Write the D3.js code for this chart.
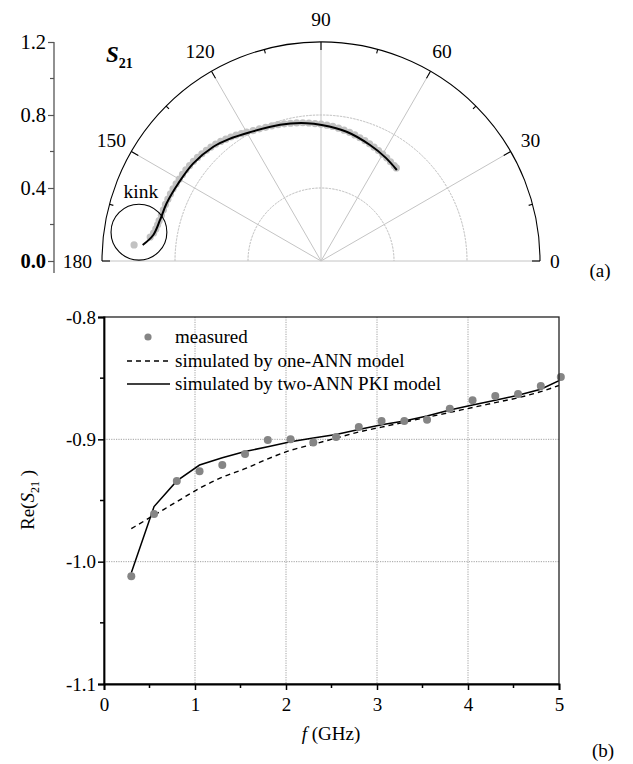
<!DOCTYPE html>
<html>
<head>
<meta charset="utf-8">
<script src="https://cdn.jsdelivr.net/npm/d3@7"></script>
<style>
    body { margin: 0; background: #fff; }
    svg { font-family: "Liberation Serif", "DejaVu Serif", serif; }
</style>
</head>
<body>
<svg id="chart" width="633" height="764"></svg>
<script>
// ---- (a) polar S21: [angle in degrees, magnitude]
const polarMeasured = [
    [175.1, 1.028],
    [172.0, 0.945], [170.5, 0.930], [169.0, 0.922], [167.5, 0.917], [166.0, 0.914],
    [164.0, 0.910], [162.0, 0.908], [160.0, 0.907], [158.0, 0.905], [156.0, 0.903],
    [154.0, 0.902], [152.0, 0.899], [150.0, 0.897], [148.0, 0.895], [146.0, 0.893],
    [144.0, 0.890], [142.0, 0.887], [140.0, 0.883], [138.0, 0.878], [136.0, 0.873],
    [134.0, 0.868], [132.0, 0.862], [130.0, 0.855], [128.0, 0.847], [126.0, 0.840],
    [124.0, 0.832], [122.0, 0.823], [120.0, 0.815], [117.5, 0.806], [115.0, 0.799],
    [112.5, 0.793], [110.0, 0.788], [107.5, 0.783], [105.0, 0.778], [102.5, 0.773],
    [100.0, 0.768], [97.5, 0.764], [95.0, 0.759], [92.5, 0.754], [90.0, 0.750],
    [87.5, 0.745], [85.0, 0.740], [82.5, 0.734], [80.0, 0.728], [77.5, 0.722],
    [75.0, 0.715], [72.5, 0.708], [70.0, 0.702], [67.5, 0.695], [65.0, 0.688],
    [62.5, 0.682], [60.0, 0.676], [57.5, 0.670], [55.0, 0.664], [52.5, 0.659],
    [51.0, 0.656]
];
const polarSimulated = [
    [174.9, 0.981], [171.2, 0.930], [165.7, 0.910], [159.5, 0.903], [151.4, 0.890],
    [142.6, 0.881], [133.3, 0.860], [127.3, 0.838], [118.9, 0.806], [106.7, 0.780],
    [95.9, 0.759], [89.7, 0.745], [78.8, 0.722], [67.1, 0.690], [58.0, 0.668],
    [50.2, 0.649]
];
const angleTicks = [0, 30, 60, 90, 120, 150, 180];
const radialTicks = [0, 0.4, 0.8, 1.2];
const kinkMark = { angle: 171, mag: 1.01, radius: 0.153 };

// ---- (b) Re(S21) vs frequency
const freqs = [0.3, 0.55, 0.8, 1.05, 1.3, 1.55, 1.8, 2.05, 2.3, 2.55, 2.8, 3.05,
    3.3, 3.55, 3.8, 4.05, 4.3, 4.55, 4.8, 5.02];
const reMeasured = [-1.012, -0.961, -0.934, -0.926, -0.921, -0.912, -0.9005, -0.900,
    -0.9025, -0.898, -0.890, -0.885, -0.885, -0.884, -0.875, -0.868, -0.8645, -0.863,
    -0.8565, -0.849];
const lineFreqs = [0.3, 0.55, 0.8, 1.05, 1.3, 1.55, 1.8, 2.05, 2.3, 2.55, 2.8, 3.05,
    3.3, 3.55, 3.8, 4.05, 4.3, 4.55, 4.8, 5.0];
const reOneAnn = [-0.973, -0.962, -0.951, -0.940, -0.931, -0.924, -0.916, -0.909,
    -0.904, -0.899, -0.894, -0.890, -0.886, -0.882, -0.878, -0.874, -0.870, -0.866,
    -0.861, -0.856];
const reTwoAnn = [-1.009, -0.955, -0.934, -0.921, -0.915, -0.910, -0.906, -0.902,
    -0.899, -0.896, -0.892, -0.888, -0.885, -0.881, -0.876, -0.872, -0.868, -0.864,
    -0.859, -0.852];
const xTicks = [0, 1, 2, 3, 4, 5];
const yTicks = [-1.1, -1.0, -0.9, -0.8];
const legendItems = ["measured", "simulated by one-ANN model", "simulated by two-ANN PKI model"];

const svg = d3.select("#chart");
const fs = "19px";
const fmt1 = v => d3.format(".1f")(v).replace("\u2212", "-");

// ================= (a) polar =================
const cx = 321, cy = 261, R = 219;
const r = d3.scaleLinear().domain([0, 1.2]).range([0, R]);
const rad = a => a * Math.PI / 180;
const pxy = (a, m) => [cx + r(m) * Math.cos(rad(a)), cy - r(m) * Math.sin(rad(a))];

const gp = svg.append("g");

// dotted rings
[0.4, 0.8].forEach(m => {
    gp.append("path")
        .attr("d", d3.arc()({ innerRadius: r(m), outerRadius: r(m),
            startAngle: -Math.PI / 2, endAngle: Math.PI / 2 }))
        .attr("transform", `translate(${cx},${cy})`)
        .attr("fill", "none").attr("stroke", "#b8b8b8")
        .attr("stroke-width", 1).attr("stroke-dasharray", "1.2,2.2");
});

// spokes
angleTicks.filter(a => a > 0 && a < 180).forEach(a => {
    const p = pxy(a, 1.2);
    gp.append("line").attr("x1", cx).attr("y1", cy).attr("x2", p[0]).attr("y2", p[1])
        .attr("stroke", "#c4c4c4").attr("stroke-width", 1);
});
// base line
gp.append("line").attr("x1", cx - R).attr("x2", cx + R).attr("y1", cy).attr("y2", cy)
    .attr("stroke", "#c4c4c4").attr("stroke-width", 1);

// outer arc
gp.append("path")
    .attr("d", d3.arc()({ innerRadius: R, outerRadius: R,
        startAngle: -Math.PI / 2, endAngle: Math.PI / 2 }))
    .attr("transform", `translate(${cx},${cy})`)
    .attr("fill", "none").attr("stroke", "#000").attr("stroke-width", 1.1);

// angular ticks
d3.range(0, 181, 15).forEach(a => {
    const len = a % 30 === 0 ? 8 : 4;
    const p1 = pxy(a, 1.2), p2 = [cx + (R - len) * Math.cos(rad(a)), cy - (R - len) * Math.sin(rad(a))];
    gp.append("line").attr("x1", p1[0]).attr("y1", p1[1]).attr("x2", p2[0]).attr("y2", p2[1])
        .attr("stroke", "#000").attr("stroke-width", 1.1);
});

// angle labels
angleTicks.forEach(a => {
    let x, y, anchor = "middle";
    if (a === 0) { x = cx + R + 10; y = cy; anchor = "start"; }
    else if (a === 180) { x = cx - R - 10; y = cy; anchor = "end"; }
    else { [x, y] = [cx + 242 * Math.cos(rad(a)), cy - 242 * Math.sin(rad(a))]; }
    gp.append("text").attr("x", x).attr("y", y).attr("dy", "0.35em")
        .attr("text-anchor", anchor).attr("font-size", "19.5px").text(a);
});

// left radial axis
const yPolar = d3.scaleLinear().domain([0, 1.2]).range([cy, cy - R]);
const axA = gp.append("g").attr("transform", "translate(54,0)")
    .call(d3.axisLeft(yPolar).tickValues(radialTicks).tickFormat(fmt1).tickSize(6));
axA.select(".domain").attr("d", `M0,${cy - R}V${cy + 12}`).attr("stroke", "#555").attr("stroke-width", 1.3);
axA.selectAll(".tick line").attr("stroke", "#555").attr("stroke-width", 1.2);
axA.selectAll(".tick text").attr("font-size", "20.5px").attr("font-family", "Liberation Serif")
    .attr("fill", "#000").attr("x", -8)
    .attr("font-weight", d => d === 0 ? "bold" : null);
[0.2, 0.6, 1.0].forEach(v => {
    gp.append("line").attr("x1", 54).attr("x2", 50).attr("y1", yPolar(v)).attr("y2", yPolar(v))
        .attr("stroke", "#555").attr("stroke-width", 1.2);
});

// measured band
gp.append("g").selectAll("circle").data(polarMeasured).join("circle")
    .attr("cx", d => pxy(d[0], d[1])[0]).attr("cy", d => pxy(d[0], d[1])[1])
    .attr("r", 3.6).attr("fill", "#c2c2c2");

// simulated
gp.append("path").datum(polarSimulated)
    .attr("d", d3.line().x(d => pxy(d[0], d[1])[0]).y(d => pxy(d[0], d[1])[1])
        .curve(d3.curveCatmullRom))
    .attr("fill", "none").attr("stroke", "#000").attr("stroke-width", 2);

// kink annotation
const kc = pxy(kinkMark.angle, kinkMark.mag);
gp.append("circle").attr("cx", kc[0]).attr("cy", kc[1]).attr("r", r(kinkMark.radius))
    .attr("fill", "none").attr("stroke", "#000").attr("stroke-width", 1.1);
gp.append("text").attr("x", kc[0] + 2).attr("y", kc[1] - r(kinkMark.radius) - 6)
    .attr("text-anchor", "middle").attr("font-size", "19.5px").text("kink");

// S21 label
const sl = gp.append("text").attr("x", 106).attr("y", 62).attr("font-weight", "bold");
sl.append("tspan").attr("font-style", "italic").attr("font-size", "23px").text("S");
sl.append("tspan").attr("font-size", "14px").attr("dy", 6).text("21");

gp.append("text").attr("x", 600).attr("y", 270).attr("dy", "0.35em")
    .attr("text-anchor", "middle").attr("font-size", fs).text("(a)");

// ================= (b) Re(S21) =================
const x = d3.scaleLinear().domain([0, 5]).range([104, 559]);
const y = d3.scaleLinear().domain([-1.1, -0.8]).range([684, 317]);
const gb = svg.append("g");

gb.append("defs").append("clipPath").attr("id", "plotClip")
    .append("rect").attr("x", 104).attr("y", 317).attr("width", 455).attr("height", 367);

// grid
[1, 2, 3, 4].forEach(v => {
    gb.append("line").attr("x1", x(v)).attr("x2", x(v)).attr("y1", 317).attr("y2", 684)
        .attr("stroke", "#8a8a8a").attr("stroke-width", 0.8).attr("stroke-dasharray", "1.2,1.2");
});
[-0.9, -1.0].forEach(v => {
    gb.append("line").attr("x1", 104).attr("x2", 559).attr("y1", y(v)).attr("y2", y(v))
        .attr("stroke", "#8a8a8a").attr("stroke-width", 0.8).attr("stroke-dasharray", "1.2,1.2");
});

// data
const plot = gb.append("g").attr("clip-path", "url(#plotClip)");
plot.append("path").datum(d3.zip(lineFreqs, reOneAnn))
    .attr("d", d3.line().x(d => x(d[0])).y(d => y(d[1])).curve(d3.curveMonotoneX))
    .attr("fill", "none").attr("stroke", "#000").attr("stroke-width", 1.4)
    .attr("stroke-dasharray", "5,4");
gb.append("g").selectAll("circle").data(d3.zip(freqs, reMeasured)).join("circle")
    .attr("cx", d => x(d[0])).attr("cy", d => y(d[1])).attr("r", 4).attr("fill", "#858585");
plot.append("path").datum(d3.zip(lineFreqs, reTwoAnn))
    .attr("d", d3.line().x(d => x(d[0])).y(d => y(d[1])))
    .attr("fill", "none").attr("stroke", "#000").attr("stroke-width", 1.5);

// frame
gb.append("rect").attr("x", 104).attr("y", 317).attr("width", 455).attr("height", 367)
    .attr("fill", "none").attr("stroke", "#222").attr("stroke-width", 1.3);

// axes
const axX = gb.append("g").attr("transform", "translate(0,684)")
    .call(d3.axisBottom(x).tickValues(xTicks).tickFormat(d3.format("d")).tickSize(6));
axX.select(".domain").attr("stroke-width", 1.8);
axX.selectAll(".tick line").attr("stroke-width", 1.5);
axX.selectAll(".tick text").attr("font-size", fs).attr("font-family", "Liberation Serif").attr("dy", "0.95em");
[0.5, 1.5, 2.5, 3.5, 4.5].forEach(v => {
    gb.append("line").attr("x1", x(v)).attr("x2", x(v)).attr("y1", 684).attr("y2", 688)
        .attr("stroke", "#000").attr("stroke-width", 1.5);
});

const axY = gb.append("g").attr("transform", "translate(104,0)")
    .call(d3.axisLeft(y).tickValues(yTicks).tickFormat(fmt1).tickSize(6));
axY.select(".domain").attr("stroke-width", 1.8);
axY.selectAll(".tick line").attr("stroke-width", 1.5);
axY.selectAll(".tick text").attr("font-size", fs).attr("font-family", "Liberation Serif").attr("x", -8);
[-1.05, -0.95, -0.85].forEach(v => {
    gb.append("line").attr("x1", 104).attr("x2", 100).attr("y1", y(v)).attr("y2", y(v))
        .attr("stroke", "#000").attr("stroke-width", 1.5);
});

// axis titles
const xt = gb.append("text").attr("x", 331).attr("y", 740).attr("text-anchor", "middle").attr("font-size", fs);
xt.append("tspan").attr("font-style", "italic").text("f");
xt.append("tspan").text(" (GHz)");

const yt = gb.append("text").attr("transform", "translate(34,500) rotate(-90)")
    .attr("text-anchor", "middle").attr("font-size", fs);
yt.append("tspan").text("Re(");
yt.append("tspan").attr("font-style", "italic").text("S");
yt.append("tspan").attr("font-size", "12px").attr("dy", 5).text("21");
yt.append("tspan").attr("dy", -5).text(" )");

gb.append("text").attr("x", 603).attr("y", 750).attr("dy", "0.35em")
    .attr("text-anchor", "middle").attr("font-size", fs).text("(b)");

// legend
const lg = gb.append("g");
const ly = [337, 361, 384];
lg.append("circle").attr("cx", 148).attr("cy", ly[0]).attr("r", 3.6).attr("fill", "#858585");
lg.append("line").attr("x1", 127).attr("x2", 170).attr("y1", ly[1]).attr("y2", ly[1])
    .attr("stroke", "#000").attr("stroke-width", 1.4).attr("stroke-dasharray", "5,4");
lg.append("line").attr("x1", 127).attr("x2", 170).attr("y1", ly[2]).attr("y2", ly[2])
    .attr("stroke", "#000").attr("stroke-width", 1.5);
legendItems.forEach((t, i) => {
    lg.append("text").attr("x", 175).attr("y", ly[i]).attr("dy", "0.32em")
        .attr("font-size", fs).text(t);
});
</script>
</body>
</html>
